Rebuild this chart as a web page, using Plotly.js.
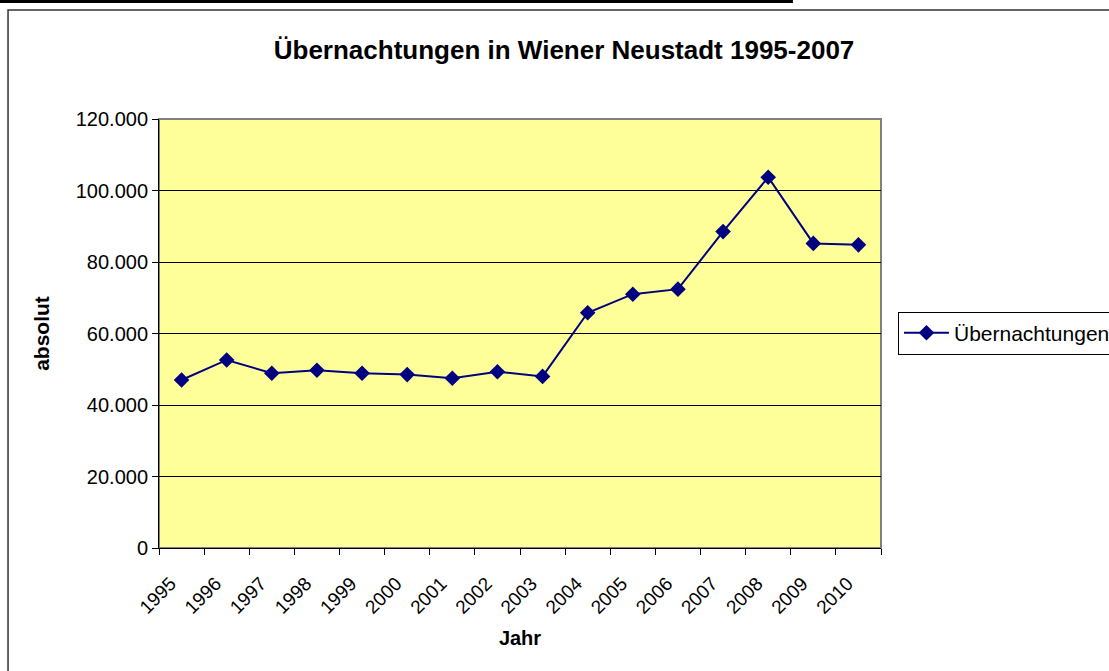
<!DOCTYPE html>
<html>
<head>
<meta charset="utf-8">
<script src="https://cdn.plot.ly/plotly-3.0.1.min.js"></script>
<style>html,body{margin:0;padding:0;background:#fff;}#chart{width:1109px;height:671px;}</style>
</head>
<body>
<div id="chart"></div>
<script>
const years = ['1995','1996','1997','1998','1999','2000','2001','2002','2003','2004','2005','2006','2007','2008','2009','2010'];
const naechtigungen = [47000, 52600, 48900, 49700, 48900, 48500, 47500, 49300, 48000, 65800, 71000, 72400, 88500, 103700, 85200, 84800];
const seriesName = 'Übernachtungen';
const chartTitle = 'Übernachtungen in Wiener Neustadt 1995-2007';
const xTitle = 'Jahr';
const yTitle = 'absolut';

const FONT = 'Liberation Sans, Arial, sans-serif';

const trace = {
  x: years,
  y: naechtigungen,
  type: 'scatter',
  mode: 'lines+markers',
  name: seriesName,
  line: {color: '#000080', width: 2},
  marker: {symbol: 'diamond', size: 12, color: '#000080'}
};

const layout = {
  width: 1109,
  height: 671,
  margin: {l: 159, r: 228, t: 119, b: 123, autoexpand: false},
  paper_bgcolor: '#ffffff',
  plot_bgcolor: '#FFFF99',
  separators: ',.',
  font: {family: FONT, size: 19, color: '#000'},
  title: {
    text: '<b>' + chartTitle + '</b>',
    font: {family: FONT, size: 26, color: '#000'},
    x: 0.561, xref: 'paper', xanchor: 'center',
    y: 0.926, yref: 'container', yanchor: 'middle'
  },
  xaxis: {
    type: 'category',
    range: [-0.5, years.length - 0.5],
    tickson: 'boundaries',
    ticks: 'outside',
    ticklen: 6,
    tickcolor: '#000',
    tickangle: -45,
    ticklabelstandoff: 16,
    ticklabelshift: -11,
    showline: true,
    linecolor: '#000',
    linewidth: 1,
    showgrid: false,
    zeroline: false,
    tickfont: {family: FONT, size: 19, color: '#000'},
    title: {text: '<b>' + xTitle + '</b>', font: {family: FONT, size: 20, color: '#000'}, standoff: 14}
  },
  yaxis: {
    range: [0, 120000],
    dtick: 20000,
    tickformat: ',d',
    ticks: 'outside',
    ticklen: 6,
    tickcolor: '#000',
    showline: true,
    linecolor: '#000',
    linewidth: 1,
    showgrid: true,
    gridcolor: '#000',
    gridwidth: 1,
    zeroline: false,
    tickfont: {family: FONT, size: 20, color: '#000'},
    title: {text: '<b>' + yTitle + '</b>', font: {family: FONT, size: 21, color: '#000'}, standoff: 20}
  },
  showlegend: true,
  legend: {
    x: 1.0235, xanchor: 'left',
    y: 0.501, yanchor: 'middle',
    bgcolor: '#fff',
    bordercolor: '#000',
    borderwidth: 1,
    itemwidth: 45,
    font: {family: FONT, size: 21, color: '#000'}
  },
  shapes: [
    {type: 'rect', xref: 'paper', yref: 'paper', x0: 0, x1: 1, y0: 0, y1: 1,
     line: {color: '#808080', width: 2}, layer: 'below'},
    {type: 'rect', xref: 'paper', yref: 'paper', x0: -0.2091, x1: 1.33, y0: -0.31, y1: 1.254,
     line: {color: '#333', width: 1.5}},
    {type: 'line', xref: 'paper', yref: 'paper', x0: -0.23, x1: 0.878, y0: 1.274, y1: 1.274,
     line: {color: '#000', width: 3}}
  ]
};

Plotly.newPlot('chart', [trace], layout, {displayModeBar: false, staticPlot: true});
</script>
</body>
</html>
